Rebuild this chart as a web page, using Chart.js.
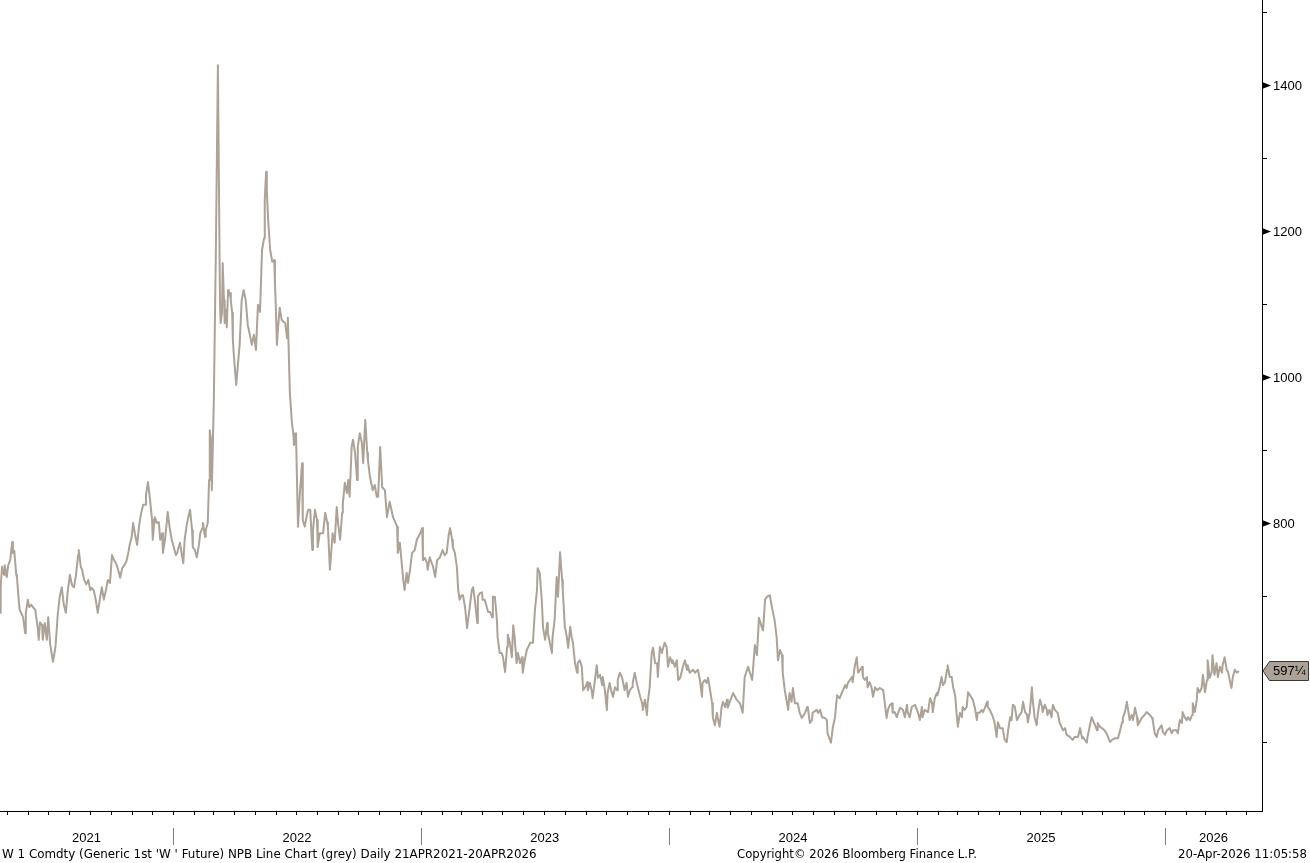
<!DOCTYPE html>
<html><head><meta charset="utf-8">
<script src="https://cdn.jsdelivr.net/npm/chart.js@4.4.1/dist/chart.umd.min.js"></script>
<style>html,body{margin:0;padding:0;background:#fff;overflow:hidden}canvas{display:block}</style>
</head><body>
<canvas id="c" width="1310" height="863"></canvas>
<script>
// Start of the series: 21 Apr 2021 (day 0). Days are calendar days since start.
const startDate = Date.UTC(2021, 3, 21);
const days = [
0,1,3,6,7,10,12,15,18,19,
21,24,25,27,29,31,34,37,38,41,
43,46,49,52,54,56,57,59,62,63,
66,69,71,74,77,78,81,82,85,88,
91,94,97,100,103,106,109,112,115,116,
119,121,124,127,130,133,135,138,141,144,
147,150,153,156,159,162,165,168,171,174,
177,180,183,186,189,191,194,196,199,202,
205,208,211,214,215,218,221,224,225,228,
231,234,236,239,240,243,246,247,250,253,
256,259,261,264,265,268,270,272,275,278,
280,283,284,287,290,293,295,298,299,302,
303,306,308,309,311,312,315,318,321,
324,325,327,328,330,331,333,334,336,337,
339,340,342,343,345,348,351,353,356,359,
362,365,368,371,374,377,380,383,386,389,
390,392,393,395,398,401,404,405,406,408,
409,412,415,418,420,423,424,427,430,432,
433,436,439,442,445,446,449,452,454,457,
460,461,464,467,468,471,476,479,482,483,
486,490,493,496,498,501,504,505,508,511,
513,515,518,520,523,526,527,530,533,535,
538,541,542,545,549,552,555,557,560,563,
567,570,574,579,585,586,589,594,596,599,
601,604,607,611,614,619,622,623,626,629,
630,633,638,641,644,648,652,655,658,661,
663,666,667,670,673,675,677,680,682,685,
688,692,695,697,700,703,704,707,710,711,
714,719,722,725,726,729,732,733,736,739,
741,744,747,748,751,754,756,758,761,763,
766,769,770,773,776,778,781,785,788,791,
792,795,798,800,803,806,807,810,813,814,
817,820,822,825,828,829,832,835,837,840,
842,844,847,850,851,854,857,859,862,865,
866,869,872,873,879,881,884,887,888,891,
894,895,898,901,903,906,909,910,913,916,
918,920,923,925,928,931,932,935,938,943,
946,947,950,953,954,957,960,962,965,968,
969,972,975,976,979,982,984,987,990,991,
994,997,999,1002,1006,1009,1012,1013,1016,1021,
1024,1028,1031,1034,1035,1038,1041,1043,1046,1049,
1050,1053,1056,1057,1060,1063,1065,1068,1071,1072,
1075,1080,1085,1090,1094,1097,1102,1108,1112,1115,
1118,1122,1124,1127,1130,1134,1137,1141,1144,1146,
1149,1152,1153,1156,1161,1163,1166,1168,1171,1175,
1178,1181,1186,1189,1190,1193,1196,1197,1203,1205,
1208,1211,1215,1218,1219,1224,1227,1230,1233,1237,
1240,1245,1247,1249,1255,1256,1259,1262,1264,1270,
1271,1274,1277,1278,1281,1284,1286,1289,1292,1296,
1301,1306,1308,1311,1314,1315,1318,1321,1323,1326,
1330,1333,1336,1337,1340,1343,1348,1352,1355,1358,
1359,1362,1367,1370,1373,1374,1377,1380,1381,1384,
1387,1389,1392,1395,1396,1399,1402,1404,1407,1409,
1411,1414,1417,1418,1421,1424,1426,1429,1433,1436,
1439,1440,1443,1446,1448,1451,1454,1455,1458,1462,
1465,1468,1470,1473,1477,1480,1483,1485,1488,1490,
1492,1495,1498,1502,1505,1507,1510,1513,1514,1517,
1520,1521,1524,1527,1529,1532,1535,1536,1539,1542,
1543,1546,1549,1551,1554,1558,1561,1566,1569,1571,
1576,1580,1583,1588,1591,1594,1595,1601,1602,1608,
1613,1616,1617,1620,1623,1627,1630,1635,1638,1642,
1647,1650,1653,1654,1657,1660,1664,1667,1669,1672,
1675,1676,1682,1686,1689,1694,1697,1698,1701,1704,
1706,1711,1713,1716,1719,1723,1726,1728,1733,1735,
1738,1741,1742,1745,1748,1750,1753,1756,1757,1760,
1763,1764,1767,1770,1772,1775,1778,1779,1782,1785,
1786,1789,1792,1794,1797,1800,1801,1804,1807,1809,
1812,1814,1816,1819,1822,1825
];
const prices = [
677,712,740,729,742,726,742,749,774,759,
762,729,726,701,681,677,671,649,677,695,
685,688,684,681,667,653,640,664,660,640,
663,640,671,633,616,610,626,633,674,699,
712,688,677,708,729,715,712,729,756,763,
740,736,722,716,722,708,711,708,695,677,
695,712,695,708,722,718,756,749,745,736,
725,738,742,747,759,770,781,800,784,770,
797,814,825,825,838,856,832,804,777,808,
800,801,777,786,759,777,804,815,793,777,
767,756,759,770,773,756,745,777,797,811,
818,790,767,763,753,770,786,793,800,781,
790,800,859,927,914,845,968,1174,1427,
1105,1074,1088,1156,1105,1074,1092,1068,1119,1112,
1115,1105,1088,1051,1023,989,1023,1044,1105,1119,
1105,1071,1058,1044,1058,1037,1099,1089,1174,1190,
1242,1281,1256,1215,1174,1158,1160,1129,1105,1044,
1060,1095,1078,1075,1074,1053,1081,978,937,923,
907,923,795,845,882,804,795,811,818,818,
763,790,818,804,767,786,786,814,801,795,
736,786,773,822,800,777,814,827,855,841,
859,836,904,914,896,859,904,923,910,882,
941,896,886,863,845,852,836,836,904,849,
845,808,829,808,795,759,773,722,708,732,
718,736,759,763,777,786,793,749,752,745,
736,753,740,726,749,753,763,756,759,784,
793,777,767,759,740,708,695,701,701,685,
656,685,708,712,690,663,699,704,705,695,
695,678,678,671,699,699,667,644,622,622,
616,596,630,647,636,616,660,644,608,622,
608,616,595,612,626,630,636,636,681,708,
738,732,695,656,640,663,649,636,622,644,
667,726,699,760,722,708,658,644,629,658,
644,636,608,595,608,612,603,571,575,582,
571,581,568,560,605,588,592,578,589,571,
544,567,581,568,562,575,571,585,595,589,
581,571,581,562,571,575,581,595,581,562,
553,544,558,537,553,575,622,629,608,608,
589,630,622,626,636,630,603,616,608,612,
603,612,585,588,603,612,599,605,595,599,
595,599,585,562,581,585,581,588,571,553,
534,523,540,534,521,548,555,548,558,547,
555,567,558,553,540,589,603,585,633,619,
670,658,653,695,699,701,685,667,644,612,
626,619,595,571,544,567,555,574,553,553,
540,533,540,548,547,526,530,540,544,540,
544,534,533,530,512,499,521,534,564,560,
567,578,574,581,589,582,603,616,595,603,
589,585,589,575,582,574,562,575,571,574,
571,533,544,551,553,540,541,534,540,547,
544,534,551,541,534,548,551,541,530,548,
534,544,541,560,553,541,560,567,564,575,
589,578,582,599,605,589,589,575,564,540,
521,540,534,548,544,548,568,564,558,547,
530,540,540,544,541,547,555,548,544,536,
527,507,527,519,519,503,500,516,534,530,
551,548,530,537,541,555,541,537,527,541,
575,560,534,523,540,558,548,541,551,544,
537,544,534,551,544,540,526,516,519,510,
507,503,507,507,519,505,507,499,507,534,
523,516,526,521,519,516,512,500,503,505,
505,516,527,533,541,555,530,537,530,547,
533,523,533,537,541,537,533,530,512,507,
516,523,514,510,516,519,512,516,516,512,
530,526,541,534,530,534,530,537,553,541,
558,574,568,574,592,568,585,612,588,596,
619,592,608,589,603,595,605,616,599,596,
582,574,589,599,595,597.25
];
const yearLabels = ['2021', '2022', '2023', '2024', '2025', '2026'];
const yTickLabels = [800, 1000, 1200, 1400];
const yMinorTicks = [500, 700, 900, 1100, 1300, 1500];
const lastPriceLabel = '597\u00BC';
const footerLeft = "W 1 Comdty (Generic 1st 'W ' Future) NPB Line Chart (grey) Daily 21APR2021-20APR2026";
const footerMid = 'Copyright\u00A9 2026 Bloomberg Finance L.P.';
const footerRight = '20-Apr-2026 11:05:58';

const DAY = 86400000;
const toDay = (y, m, d) => (Date.UTC(y, m, d) - startDate) / DAY;
const n = Math.min(days.length, prices.length);
const points = [];
for (let i = 0; i < n; i++) points.push({ x: days[i], y: prices[i] });

const LINE_COLOR = 'rgb(172,162,151)';
const NUM_FONT = '13px "Liberation Sans", Arial, sans-serif';

function fitFont(ctx, text, family, target) {
  ctx.font = '20px ' + family;
  const w = ctx.measureText(text).width;
  return (20 * target / w).toFixed(2) + 'px ' + family;
}

const axesPlugin = {
  id: 'bbgAxes',
  afterDraw(chart) {
    const ctx = chart.ctx, ca = chart.chartArea, xs = chart.scales.x, ys = chart.scales.y;
    ctx.save();
    ctx.strokeStyle = '#000';
    ctx.lineWidth = 1;
    ctx.beginPath();
    ctx.moveTo(ca.right + 0.5, 0);
    ctx.lineTo(ca.right + 0.5, ca.bottom + 1);
    ctx.moveTo(0, ca.bottom + 0.5);
    ctx.lineTo(ca.right + 1, ca.bottom + 0.5);
    ctx.stroke();

    // minor y ticks
    ctx.beginPath();
    yMinorTicks.forEach(v => {
      const py = Math.round(ys.getPixelForValue(v)) + 0.5;
      ctx.moveTo(ca.right, py);
      ctx.lineTo(ca.right + 5, py);
    });
    ctx.stroke();

    // labelled y ticks
    ctx.fillStyle = '#000';
    ctx.font = NUM_FONT;
    ctx.textBaseline = 'middle';
    ctx.textAlign = 'left';
    yTickLabels.forEach(v => {
      const py = Math.round(ys.getPixelForValue(v)) + 0.5;
      ctx.beginPath();
      ctx.moveTo(ca.right, py - 3.5);
      ctx.lineTo(ca.right + 9, py);
      ctx.lineTo(ca.right, py + 3.5);
      ctx.closePath();
      ctx.fill();
      ctx.fillText(String(v), ca.right + 11, py + 0.5);
    });

    // month ticks on x axis
    ctx.beginPath();
    for (let y = 2021; y <= 2026; y++) {
      for (let m = 0; m < 12; m++) {
        const d = toDay(y, m, 1);
        if (d <= 0 || d > xs.max) continue;
        const px = Math.round(xs.getPixelForValue(d)) + 0.5;
        ctx.moveTo(px, ca.bottom);
        ctx.lineTo(px, ca.bottom + 4);
      }
    }
    ctx.stroke();

    // year separators and labels
    ctx.strokeStyle = '#808080';
    ctx.beginPath();
    yearLabels.forEach(lab => {
      const yr = parseInt(lab, 10);
      const d0 = toDay(yr, 0, 1);
      if (d0 > 0) {
        const px = Math.round(xs.getPixelForValue(d0)) + 0.5;
        ctx.moveTo(px, 828);
        ctx.lineTo(px, 845);
      }
    });
    ctx.stroke();
    ctx.fillStyle = '#000';
    ctx.textAlign = 'center';
    ctx.font = NUM_FONT;
    yearLabels.forEach(lab => {
      const yr = parseInt(lab, 10);
      const a = Math.max(xs.getPixelForValue(toDay(yr, 0, 1)), ca.left);
      const b = Math.min(xs.getPixelForValue(toDay(yr + 1, 0, 1)), ca.right);
      ctx.fillText(lab, (a + b) / 2, 838);
    });

    // last price tag
    const last = prices[n - 1];
    const py = ys.getPixelForValue(last);
    ctx.beginPath();
    ctx.moveTo(ca.right + 1, py);
    ctx.lineTo(ca.right + 7.5, py - 9.5);
    ctx.lineTo(1308.5, py - 9.5);
    ctx.lineTo(1308.5, py + 9.5);
    ctx.lineTo(ca.right + 7.5, py + 9.5);
    ctx.closePath();
    ctx.fillStyle = LINE_COLOR;
    ctx.fill();
    ctx.strokeStyle = '#3a3a3a';
    ctx.stroke();
    ctx.fillStyle = '#000';
    ctx.textAlign = 'left';
    ctx.font = NUM_FONT;
    ctx.fillText(lastPriceLabel, ca.right + 11, py + 0.5);

    // footer
    const fam = '"DejaVu Sans", sans-serif';
    ctx.textBaseline = 'middle';
    ctx.font = fitFont(ctx, footerLeft, fam, 535);
    ctx.textAlign = 'left';
    ctx.fillText(footerLeft, 2, 855);
    ctx.font = fitFont(ctx, footerMid, fam, 240);
    ctx.fillText(footerMid, 737, 855);
    ctx.font = fitFont(ctx, footerRight, fam, 129);
    ctx.textAlign = 'right';
    ctx.fillText(footerRight, 1307, 855);
    ctx.restore();
  }
};

new Chart(document.getElementById('c'), {
  type: 'line',
  data: {
    datasets: [{
      data: points,
      borderColor: LINE_COLOR,
      borderWidth: 2,
      borderJoinStyle: 'round',
      pointRadius: 0,
      tension: 0,
      fill: false
    }]
  },
  options: {
    responsive: false,
    animation: false,
    devicePixelRatio: 1,
    layout: { padding: { left: 0, top: 0, right: 48, bottom: 52 } },
    plugins: { legend: { display: false }, tooltip: { enabled: false } },
    scales: {
      x: { type: 'linear', min: 0, max: 1859, display: false },
      y: { type: 'linear', min: 405.5, max: 1516.4, display: false }
    }
  },
  plugins: [axesPlugin]
});
</script>
</body></html>
